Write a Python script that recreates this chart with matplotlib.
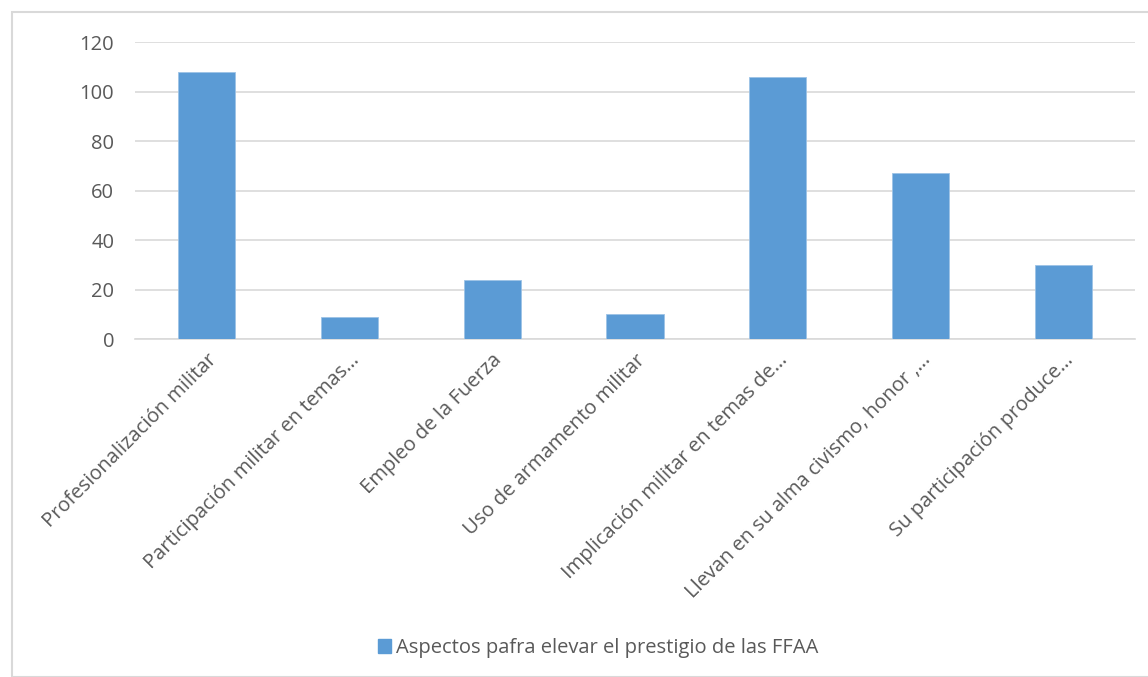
import matplotlib
matplotlib.use("Agg")
import matplotlib.pyplot as plt
from matplotlib.patches import Rectangle, Patch

categories = [
    "Profesionalización militar",
    "Participación militar en temas…",
    "Empleo de la Fuerza",
    "Uso de armamento militar",
    "Implicación militar en temas de…",
    "Llevan en su alma civismo, honor ,…",
    "Su participación produce…",
]
values = [108, 9, 24, 10, 106, 67, 30]
yticks = [0, 20, 40, 60, 80, 100, 120]
series_name = "Aspectos pafra elevar el prestigio de las FFAA"

plt.rcParams['font.family'] = ['Open Sans', 'DejaVu Sans']
text_color = "#595959"
bar_color = "#5b9bd5"
grid_color = "#d9d9d9"

fig = plt.figure(figsize=(11.48, 6.77), dpi=100)
fig.patches.append(Rectangle((12/1148, 0), 1 - 12/1148 + 0.01, 1 - 12/677,
                             transform=fig.transFigure, fill=False,
                             edgecolor="#d9d9d9", linewidth=1.5))

ax = fig.add_axes([135/1148, 1 - 339/677, 1000/1148, 297/677])
x = range(len(categories))
ax.bar(x, values, width=0.4, color=bar_color, edgecolor="#9dc3e6", linewidth=0.6, zorder=3)
ax.set_xlim(-0.5, len(categories) - 0.5)
ax.set_ylim(0, 120)
ax.set_yticks(yticks)
ax.set_yticklabels([str(v) for v in yticks], color=text_color, fontsize=14.5)
ax.yaxis.grid(True, color=grid_color, linewidth=1.2, zorder=0)
ax.set_xticks(list(x))
ax.set_xticklabels(categories, rotation=45, ha='right', rotation_mode='anchor',
                   color=text_color, fontsize=14.5)
ax.tick_params(axis='y', length=0, pad=15)
ax.tick_params(axis='x', length=0, pad=8)
for s in ["top", "right", "left"]:
    ax.spines[s].set_visible(False)
ax.spines["bottom"].set_color(grid_color)
ax.spines["bottom"].set_linewidth(1.2)

handle = Patch(facecolor=bar_color, edgecolor=bar_color)
fig.legend([handle], [series_name], loc='center', bbox_to_anchor=(598/1148, 1 - 648/677),
           frameon=False, fontsize=14.5, labelcolor=text_color,
           handlelength=0.65, handleheight=0.65, handletextpad=0.25)

fig.savefig("out.png", dpi=100)
